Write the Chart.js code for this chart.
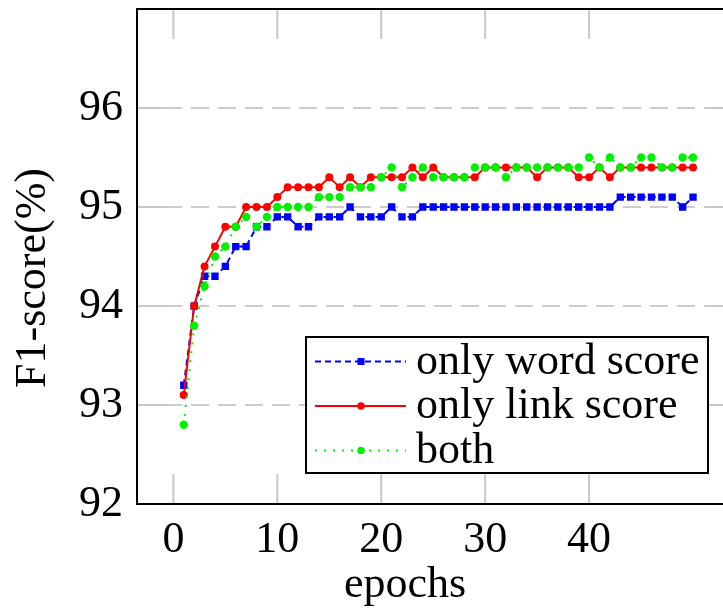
<!DOCTYPE html>
<html>
<head>
<meta charset="utf-8">
<script src="https://cdn.jsdelivr.net/npm/chart.js@4"></script>
<style>
  html, body { margin: 0; padding: 0; background: #fff; overflow: hidden; }
  #wrap { width: 723px; height: 612px; overflow: hidden; }
</style>
</head>
<body>
<div id="wrap"><canvas id="f1-chart" width="745" height="612"></canvas></div>
<script>
// Data
const epochs = [1, 2, 3, 4, 5, 6, 7, 8, 9, 10, 11, 12, 13, 14, 15, 16, 17, 18, 19, 20,
  21, 22, 23, 24, 25, 26, 27, 28, 29, 30, 31, 32, 33, 34, 35, 36, 37, 38, 39, 40,
  41, 42, 43, 44, 45, 46, 47, 48, 49, 50];
const wordScore = [93.2, 94.0, 94.3, 94.3, 94.4, 94.6, 94.6, 94.8, 94.8, 94.9,
  94.9, 94.8, 94.8, 94.9, 94.9, 94.9, 95.0, 94.9, 94.9, 94.9,
  95.0, 94.9, 94.9, 95.0, 95.0, 95.0, 95.0, 95.0, 95.0, 95.0,
  95.0, 95.0, 95.0, 95.0, 95.0, 95.0, 95.0, 95.0, 95.0, 95.0,
  95.0, 95.0, 95.1, 95.1, 95.1, 95.1, 95.1, 95.1, 95.0, 95.1];
const linkScore = [93.1, 94.0, 94.4, 94.6, 94.8, 94.8, 95.0, 95.0, 95.0, 95.1,
  95.2, 95.2, 95.2, 95.2, 95.3, 95.2, 95.3, 95.2, 95.3, 95.3,
  95.3, 95.3, 95.4, 95.3, 95.4, 95.3, 95.3, 95.3, 95.3, 95.4,
  95.4, 95.4, 95.4, 95.4, 95.3, 95.4, 95.4, 95.4, 95.3, 95.3,
  95.4, 95.3, 95.4, 95.4, 95.4, 95.4, 95.4, 95.4, 95.4, 95.4];
const bothScore = [92.8, 93.8, 94.2, 94.5, 94.6, 94.8, 94.9, 94.8, 94.9, 95.0,
  95.0, 95.0, 95.0, 95.1, 95.1, 95.1, 95.2, 95.2, 95.2, 95.3,
  95.4, 95.2, 95.3, 95.4, 95.3, 95.3, 95.3, 95.3, 95.4, 95.4,
  95.4, 95.3, 95.4, 95.4, 95.4, 95.4, 95.4, 95.4, 95.4, 95.5,
  95.4, 95.5, 95.4, 95.4, 95.5, 95.5, 95.4, 95.4, 95.5, 95.5];
const seriesNames = ['only word score', 'only link score', 'both'];
const xTicks = [0, 10, 20, 30, 40];
const yTicks = [92, 93, 94, 95, 96];

const FONT = '"Liberation Serif", "Times New Roman", serif';
const BLUE = 'rgb(0,0,255)';
const RED = 'rgb(255,0,0)';
const GREEN = 'rgb(0,240,0)';

function toPoints(values) {
  return epochs.map((e, i) => ({ x: e, y: values[i] }));
}

// frame, inner tick marks, axis titles and the boxed legend
const framePlugin = {
  id: 'frame',
  beforeDatasetsDraw(chart) {
    const { ctx, chartArea: a, scales: { x, y } } = chart;
    ctx.save();
    ctx.strokeStyle = '#c8c8c8';
    ctx.lineWidth = 2;
    ctx.beginPath();
    xTicks.forEach(v => {
      const px = x.getPixelForValue(v);
      ctx.moveTo(px, a.top); ctx.lineTo(px, a.top + 30);
      ctx.moveTo(px, a.bottom - 30); ctx.lineTo(px, a.bottom);
    });
    yTicks.forEach(v => {
      const py = y.getPixelForValue(v);
      ctx.moveTo(a.left, py); ctx.lineTo(a.left + 30, py);
      ctx.moveTo(a.right - 30, py); ctx.lineTo(a.right, py);
    });
    ctx.stroke();
    ctx.restore();
  },
  afterDatasetsDraw(chart) {
    const { ctx, chartArea: a } = chart;
    ctx.save();
    // axis box
    ctx.strokeStyle = '#000';
    ctx.lineWidth = 2;
    ctx.strokeRect(a.left, a.top, a.right - a.left, a.bottom - a.top);

    // axis titles
    ctx.fillStyle = '#000';
    ctx.font = '44px ' + FONT;
    ctx.textAlign = 'center';
    ctx.textBaseline = 'alphabetic';
    ctx.fillText('epochs', 405, 597);
    ctx.save();
    ctx.translate(45, 278);
    ctx.rotate(-Math.PI / 2);
    ctx.fillText('F1-score(%)', 0, 0);
    ctx.restore();

    // legend box
    const bx = 306, by = 337, bw = 402, bh = 136;
    ctx.fillStyle = '#fff';
    ctx.fillRect(bx, by, bw, bh);
    ctx.strokeStyle = '#000';
    ctx.lineWidth = 2;
    ctx.strokeRect(bx, by, bw, bh);

    const rows = [361.5, 406, 450.5];
    chart.data.datasets.forEach((ds, i) => {
      const ry = rows[i];
      ctx.save();
      ctx.strokeStyle = ds.borderColor;
      ctx.lineWidth = 2;
      ctx.setLineDash(ds.borderDash || []);
      ctx.beginPath();
      ctx.moveTo(315, ry);
      ctx.lineTo(406, ry);
      ctx.stroke();
      ctx.setLineDash([]);
      ctx.fillStyle = ds.pointBackgroundColor;
      if (ds.pointStyle === 'rect') {
        ctx.fillRect(361 - 3.5, ry - 3.5, 7, 7);
      } else {
        ctx.beginPath();
        ctx.arc(361, ry, 3.8, 0, Math.PI * 2);
        ctx.fill();
      }
      ctx.restore();
      ctx.fillStyle = '#000';
      ctx.font = '44px ' + FONT;
      ctx.textAlign = 'left';
      ctx.fillText(seriesNames[i], 416, ry + 12);
    });
    ctx.restore();
  }
};

const config = {
  type: 'line',
  data: {
    datasets: [
      {
        label: seriesNames[0],
        data: toPoints(wordScore),
        borderColor: BLUE,
        backgroundColor: BLUE,
        pointBackgroundColor: BLUE,
        pointBorderWidth: 0,
        pointStyle: 'rect',
        pointRadius: 5.2,
        borderWidth: 2,
        borderDash: [6, 4],
        tension: 0,
        order: 3
      },
      {
        label: seriesNames[1],
        data: toPoints(linkScore),
        borderColor: RED,
        backgroundColor: RED,
        pointBackgroundColor: RED,
        pointBorderWidth: 0,
        pointStyle: 'circle',
        pointRadius: 4,
        borderWidth: 2,
        tension: 0,
        order: 2
      },
      {
        label: seriesNames[2],
        data: toPoints(bothScore),
        borderColor: GREEN,
        backgroundColor: GREEN,
        pointBackgroundColor: GREEN,
        pointBorderWidth: 0,
        pointStyle: 'circle',
        pointRadius: 4.2,
        borderWidth: 2,
        borderDash: [2, 7],
        tension: 0,
        order: 1
      }
    ]
  },
  options: {
    responsive: false,
    animation: false,
    events: [],
    layout: { padding: { top: 9, right: 4, left: 0, bottom: 0 } },
    plugins: {
      legend: { display: false },
      tooltip: { enabled: false }
    },
    scales: {
      x: {
        type: 'linear',
        min: -3.5,
        max: 54.5,
        afterBuildTicks: s => { s.ticks = xTicks.map(v => ({ value: v })); },
        afterFit: s => { s.height = 108; s.paddingLeft = 0; s.paddingRight = 0; },
        grid: { display: false, drawTicks: false },
        border: { display: false },
        ticks: {
          color: '#000',
          font: { family: FONT, size: 44 },
          padding: 10,
          maxRotation: 0
        }
      },
      y: {
        type: 'linear',
        min: 92,
        max: 97,
        afterBuildTicks: s => { s.ticks = yTicks.map(v => ({ value: v })); },
        afterFit: s => { s.width = 137; s.paddingTop = 0; s.paddingBottom = 0; },
        grid: { color: '#cccccc', lineWidth: 2, drawTicks: false },
        border: { display: false, dash: [18, 9] },
        ticks: {
          color: '#000',
          font: { family: FONT, size: 44 },
          padding: 14
        }
      }
    }
  },
  plugins: [framePlugin]
};

new Chart(document.getElementById('f1-chart').getContext('2d'), config);
</script>
</body>
</html>
